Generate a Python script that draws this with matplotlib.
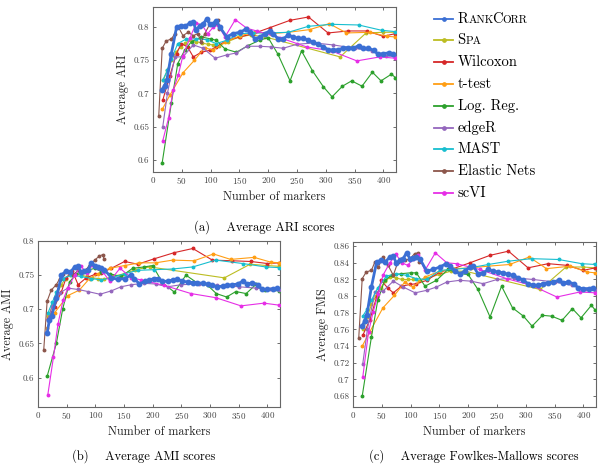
import matplotlib
matplotlib.use('Agg')
import matplotlib.pyplot as plt
from matplotlib.ticker import FuncFormatter
from matplotlib.lines import Line2D
from matplotlib.offsetbox import TextArea, DrawingArea, HPacker, VPacker, AnchoredOffsetbox

plt.rcParams['font.family'] = 'serif'
plt.rcParams['font.serif'] = ['cmr10']
plt.rcParams['mathtext.fontset'] = 'cm'
plt.rcParams['axes.formatter.use_mathtext'] = True

# method names / colours
names = ['RankCorr', 'Spa', 'Wilcoxon', 't-test', 'Log. Reg.', 'edgeR', 'MAST', 'Elastic Nets', 'scVI']
smallcaps = ['RankCorr', 'Spa']
colors = ['#3b6fd4', '#bcbd22', '#d62728', '#ff9e14', '#2ca02c', '#9467bd', '#17becf', '#8c564b', '#e62ee6']

# number of markers per method (same for all three scores)
rank_x = [16, 20, 24, 32, 41, 49, 56, 64, 70, 75, 81, 87, 93, 99, 104, 110, 116, 128, 139, 151, 162, 168,
          177, 186, 194, 203, 209, 217, 226, 235, 243, 252, 261, 270, 278, 287, 296, 304, 313, 322, 330,
          339, 348, 357, 365, 374, 383, 391, 400, 409, 417]
spa_x = [18, 25, 32, 40, 48, 56, 65, 75, 85, 95, 105, 115, 130, 150, 170, 195, 325, 370, 400, 420]
wilc_x = [17, 29, 41, 49, 60, 70, 84, 99, 110, 128, 151, 174, 203, 238, 270, 304, 339, 371, 400, 421]
ttest_x = [16, 29, 52, 72, 90, 104, 125, 151, 177, 205, 235, 272, 306, 336, 377, 406, 421]
logreg_x = [16, 32, 43, 55, 67, 84, 100, 110, 125, 145, 165, 185, 200, 217, 238, 258, 277, 296, 311, 329,
            345, 363, 381, 396, 414, 421]
edger_x = [17, 25, 38, 52, 70, 87, 108, 128, 145, 163, 185, 205, 226, 250, 280, 313, 350, 380, 405, 421]
mast_x = [17, 25, 32, 43, 58, 75, 93, 110, 128, 151, 174, 203, 235, 270, 310, 357, 397, 421]
enet_x = [10, 16, 23, 32, 38, 44, 52, 61, 70, 78, 84, 90, 99, 107, 113, 115]
scvi_x = [17, 27, 35, 44, 52, 64, 75, 85, 95, 105, 113, 125, 143, 163, 180, 220, 267, 310, 354, 394, 421]

# ARI
rank_ari = [0.706, 0.712, 0.72, 0.76, 0.8, 0.802, 0.801, 0.806, 0.807, 0.795, 0.802, 0.804, 0.812, 0.804,
            0.805, 0.809, 0.8, 0.785, 0.79, 0.792, 0.797, 0.792, 0.782, 0.785, 0.79, 0.794, 0.79, 0.782,
            0.782, 0.788, 0.785, 0.783, 0.783, 0.78, 0.777, 0.774, 0.77, 0.766, 0.765, 0.766, 0.768, 0.769,
            0.768, 0.772, 0.768, 0.768, 0.765, 0.759, 0.76, 0.761, 0.76]
spa_ari = [0.72, 0.735, 0.75, 0.762, 0.77, 0.776, 0.78, 0.778, 0.776, 0.774, 0.773, 0.772, 0.778, 0.785,
           0.788, 0.785, 0.755, 0.791, 0.792, 0.792]
wilc_ari = [0.69, 0.726, 0.76, 0.775, 0.77, 0.755, 0.762, 0.765, 0.77, 0.78, 0.785, 0.79, 0.799, 0.81,
            0.815, 0.791, 0.794, 0.794, 0.786, 0.79]
ttest_ari = [0.676, 0.697, 0.731, 0.75, 0.769, 0.765, 0.777, 0.787, 0.792, 0.79, 0.792, 0.796, 0.805,
             0.791, 0.792, 0.786, 0.785]
logreg_ari = [0.596, 0.686, 0.745, 0.765, 0.778, 0.785, 0.782, 0.78, 0.767, 0.762, 0.772, 0.78, 0.784,
              0.759, 0.719, 0.764, 0.734, 0.71, 0.695, 0.711, 0.719, 0.711, 0.732, 0.719, 0.729, 0.724]
edger_ari = [0.65, 0.70, 0.755, 0.755, 0.773, 0.768, 0.753, 0.758, 0.761, 0.771, 0.771, 0.77, 0.768,
             0.774, 0.776, 0.773, 0.768, 0.764, 0.757, 0.755]
mast_ari = [0.72, 0.735, 0.752, 0.775, 0.782, 0.782, 0.781, 0.775, 0.78, 0.79, 0.791, 0.791, 0.792,
            0.801, 0.804, 0.803, 0.795, 0.793]
enet_ari = [0.666, 0.768, 0.779, 0.782, 0.79, 0.80, 0.787, 0.792, 0.787, 0.79, 0.777, 0.79, 0.805, 0.805,
            0.811, 0.797]
scvi_ari = [0.629, 0.663, 0.705, 0.728, 0.757, 0.783, 0.806, 0.803, 0.79, 0.80, 0.803, 0.785, 0.811,
            0.798, 0.794, 0.784, 0.77, 0.764, 0.749, 0.755, 0.753]

# AMI
rank_ami = [0.665, 0.685, 0.69, 0.716, 0.75, 0.756, 0.754, 0.762, 0.763, 0.754, 0.756, 0.757, 0.768, 0.764,
            0.762, 0.761, 0.758, 0.746, 0.744, 0.745, 0.75, 0.745, 0.737, 0.741, 0.743, 0.745, 0.745,
            0.741, 0.741, 0.743, 0.744, 0.741, 0.74, 0.739, 0.739, 0.738, 0.737, 0.735, 0.733, 0.734,
            0.735, 0.736, 0.737, 0.741, 0.737, 0.739, 0.736, 0.729, 0.729, 0.73, 0.731]
spa_ami = [0.69, 0.705, 0.72, 0.735, 0.745, 0.75, 0.752, 0.75, 0.748, 0.746, 0.745, 0.744, 0.748, 0.752,
           0.758, 0.762, 0.746, 0.766, 0.764, 0.763]
wilc_ami = [0.686, 0.704, 0.726, 0.746, 0.756, 0.736, 0.746, 0.751, 0.753, 0.76, 0.77, 0.766, 0.774,
            0.783, 0.789, 0.772, 0.771, 0.77, 0.767, 0.768]
ttest_ami = [0.672, 0.695, 0.72, 0.728, 0.745, 0.752, 0.76, 0.764, 0.768, 0.768, 0.772, 0.771, 0.781,
             0.773, 0.776, 0.769, 0.768]
logreg_ami = [0.602, 0.65, 0.70, 0.74, 0.752, 0.757, 0.76, 0.755, 0.752, 0.748, 0.76, 0.762, 0.764,
              0.739, 0.725, 0.75, 0.739, 0.735, 0.723, 0.718, 0.726, 0.723, 0.737, 0.728, 0.73, 0.727]
edger_ami = [0.684, 0.705, 0.724, 0.731, 0.729, 0.726, 0.722, 0.727, 0.733, 0.736, 0.738, 0.737, 0.733,
             0.736, 0.737, 0.735, 0.733, 0.731, 0.729, 0.728]
mast_ami = [0.694, 0.71, 0.725, 0.745, 0.75, 0.748, 0.745, 0.743, 0.746, 0.752, 0.757, 0.758, 0.759,
            0.762, 0.772, 0.767, 0.762, 0.761]
enet_ami = [0.64, 0.712, 0.728, 0.736, 0.745, 0.752, 0.755, 0.75, 0.757, 0.755, 0.758, 0.765, 0.772,
            0.778, 0.78, 0.774]
scvi_ami = [0.574, 0.63, 0.679, 0.714, 0.731, 0.75, 0.763, 0.753, 0.765, 0.76, 0.755, 0.741, 0.76, 0.746,
            0.743, 0.735, 0.723, 0.717, 0.705, 0.709, 0.706]

# FMS
rank_fms = [0.764, 0.77, 0.777, 0.811, 0.841, 0.843, 0.841, 0.847, 0.848, 0.84, 0.843, 0.845, 0.852, 0.845,
            0.846, 0.847, 0.845, 0.83, 0.832, 0.835, 0.839, 0.836, 0.83, 0.827, 0.83, 0.835, 0.836, 0.827,
            0.828, 0.832, 0.83, 0.829, 0.828, 0.826, 0.825, 0.822, 0.819, 0.815, 0.813, 0.813, 0.815,
            0.816, 0.817, 0.819, 0.816, 0.817, 0.815, 0.81, 0.809, 0.809, 0.81]
spa_fms = [0.76, 0.775, 0.79, 0.80, 0.81, 0.818, 0.823, 0.822, 0.82, 0.82, 0.82, 0.818, 0.822, 0.826,
           0.83, 0.83, 0.808, 0.835, 0.835, 0.834]
wilc_fms = [0.753, 0.771, 0.799, 0.819, 0.81, 0.804, 0.812, 0.814, 0.815, 0.819, 0.829, 0.833, 0.84,
            0.849, 0.854, 0.834, 0.839, 0.837, 0.831, 0.834]
ttest_fms = [0.74, 0.757, 0.786, 0.801, 0.817, 0.811, 0.823, 0.83, 0.833, 0.834, 0.836, 0.838, 0.847,
             0.833, 0.836, 0.829, 0.828]
logreg_fms = [0.68, 0.751, 0.795, 0.819, 0.825, 0.827, 0.828, 0.828, 0.812, 0.819, 0.832, 0.827, 0.826,
              0.808, 0.775, 0.812, 0.786, 0.776, 0.764, 0.777, 0.776, 0.771, 0.785, 0.774, 0.789, 0.783]
edger_fms = [0.719, 0.76, 0.805, 0.806, 0.818, 0.811, 0.804, 0.807, 0.811, 0.817, 0.819, 0.818, 0.815,
             0.82, 0.822, 0.82, 0.817, 0.813, 0.808, 0.807]
mast_fms = [0.776, 0.785, 0.795, 0.81, 0.824, 0.827, 0.825, 0.821, 0.82, 0.831, 0.832, 0.834, 0.838,
            0.842, 0.845, 0.844, 0.839, 0.838]
enet_fms = [0.75, 0.821, 0.829, 0.831, 0.841, 0.835, 0.847, 0.837, 0.825, 0.841, 0.845, 0.843, 0.845,
            0.851, 0.852, 0.841]
scvi_fms = [0.703, 0.757, 0.781, 0.803, 0.825, 0.84, 0.85, 0.84, 0.837, 0.845, 0.849, 0.831, 0.852, 0.84,
            0.839, 0.832, 0.821, 0.813, 0.799, 0.805, 0.804]

xs = [rank_x, spa_x, wilc_x, ttest_x, logreg_x, edger_x, mast_x, enet_x, scvi_x]
ari = [rank_ari, spa_ari, wilc_ari, ttest_ari, logreg_ari, edger_ari, mast_ari, enet_ari, scvi_ari]
ami = [rank_ami, spa_ami, wilc_ami, ttest_ami, logreg_ami, edger_ami, mast_ami, enet_ami, scvi_ami]
fms = [rank_fms, spa_fms, wilc_fms, ttest_fms, logreg_fms, edger_fms, mast_fms, enet_fms, scvi_fms]


def panel(ax, ys, ylabel, ylim, yticks):
    for i in range(len(names)):
        if i == 0:
            ax.plot(xs[i], ys[i], color=colors[i], lw=2.0, marker='o', ms=3.2, zorder=5)
        else:
            ax.plot(xs[i], ys[i], color=colors[i], lw=0.8, marker='o', ms=1.8, zorder=3)
    ax.set_xlim(0, 422)
    ax.set_ylim(*ylim)
    ax.set_xticks(range(0, 401, 50))
    ax.set_yticks(yticks)
    ax.yaxis.set_major_formatter(FuncFormatter(lambda v, p: '%g' % round(v, 3)))
    ax.tick_params(direction='in', top=True, right=True, labelsize=6.5, length=2.5, width=0.6,
                   colors='#555555', labelcolor='#444444', pad=2.5)
    for s in ax.spines.values():
        s.set_color('#666666')
        s.set_linewidth(0.8)
    ax.set_xlabel('Number of markers', fontsize=8.7, labelpad=3, color='#222222')
    ax.set_ylabel(ylabel, fontsize=8.7, labelpad=3, color='#222222')


fig = plt.figure(figsize=(5.99, 4.67), dpi=100)
ax1 = fig.add_axes([0.2554, 0.6317, 0.4057, 0.3533])
ax2 = fig.add_axes([0.0634, 0.1285, 0.404, 0.3555])
ax3 = fig.add_axes([0.5893, 0.1285, 0.4057, 0.3533])

panel(ax1, ari, 'Average ARI', (0.582, 0.83), [0.6, 0.65, 0.7, 0.75, 0.8])
panel(ax2, ami, 'Average AMI', (0.557, 0.80), [0.6, 0.65, 0.7, 0.75, 0.8])
panel(ax3, fms, 'Average FMS', (0.667, 0.865), [0.68, 0.7, 0.72, 0.74, 0.76, 0.78, 0.8, 0.82, 0.84, 0.86])


# legend with small caps for RankCorr / Spa: one box per capitalised word
def word_box(word):
    big = TextArea(word[0], textprops=dict(fontsize=10.5))
    small = TextArea(word[1:].upper(), textprops=dict(fontsize=8))
    return HPacker(children=[big, small], align='baseline', pad=0, sep=0)


def name_box(label):
    if label not in smallcaps:
        return TextArea(label, textprops=dict(fontsize=10.5))
    words = []
    cur = ''
    for ch in label:
        if ch.isupper() and cur:
            words.append(cur)
            cur = ''
        cur += ch
    words.append(cur)
    return HPacker(children=[word_box(w) for w in words], align='baseline', pad=0, sep=-1.5)


rows = []
for lab, col in zip(names, colors):
    da = DrawingArea(14, 7, 0, 0)
    da.add_artist(Line2D([0, 14], [3.5, 3.5], color=col, lw=1.3))
    da.add_artist(Line2D([7], [3.5], color=col, marker='o', ms=2.4))
    rows.append(HPacker(children=[da, name_box(lab)], align='center', pad=0, sep=3))
leg = VPacker(children=rows, align='left', pad=0, sep=5.7)
box = AnchoredOffsetbox(loc='upper left', child=leg, bbox_to_anchor=(434 / 599, 1 - 12 / 467),
                        bbox_transform=fig.transFigure, frameon=False, pad=0, borderpad=0)
fig.add_artist(box)

fig.text(264 / 599, 1 - 227 / 467, '(a)    Average ARI scores', ha='center', va='center', fontsize=9)
fig.text(144 / 599, 1 - 456 / 467, '(b)    Average AMI scores', ha='center', va='center', fontsize=9)
fig.text(474 / 599, 1 - 456 / 467, '(c)    Average Fowlkes-Mallows scores', ha='center', va='center',
         fontsize=9)

fig.savefig('out.png', dpi=100)
